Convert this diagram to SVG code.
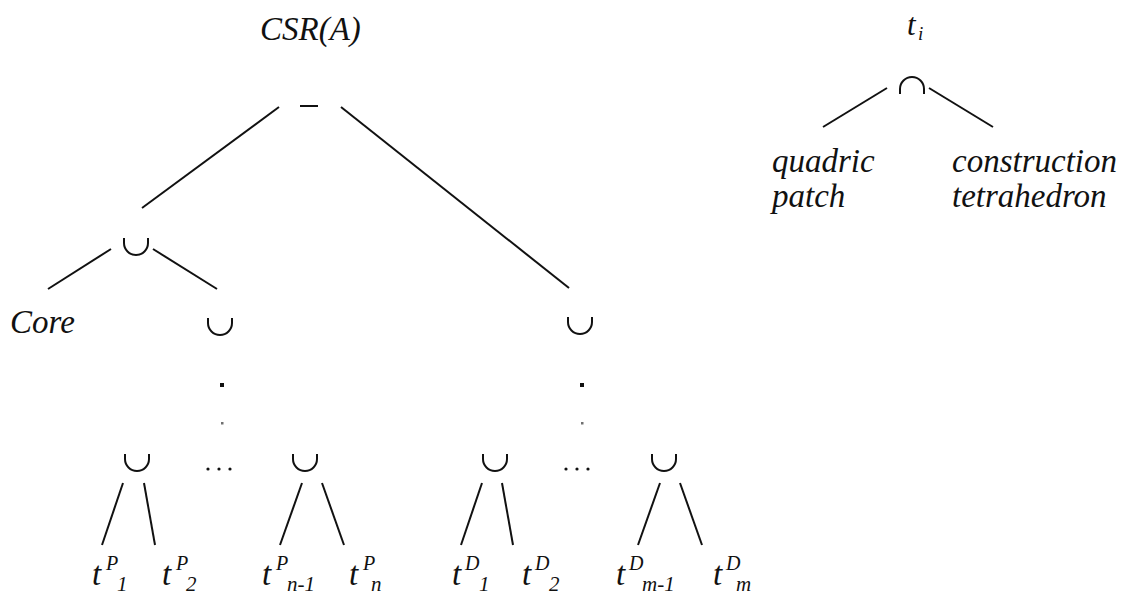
<svg xmlns="http://www.w3.org/2000/svg" width="1134" height="595" viewBox="0 0 1134 595">
<defs>
<style>
text{font-family:'Liberation Serif','DejaVu Serif','Times New Roman',serif;font-style:italic;fill:#111}
.lbl{font-size:33px}
.sup{font-size:20px}
.sub{font-size:21px}
.op{fill:none;stroke:#111;stroke-width:2}
.edge{stroke:#111;stroke-width:2;fill:none}
.dot{fill:#111}
</style>
<path id="cup" class="op" d="M-12,0 v5 a12,12 0 0 0 24,0 v-5"/>
<path id="cap" class="op" d="M-12,12 v-5 a12,12 0 0 1 24,0 v5"/>
</defs>
<rect width="1134" height="595" fill="#fff"/>
<g id="connectors">
<line class="edge" x1="279" y1="107" x2="142" y2="208"/>
<line class="edge" x1="341" y1="107" x2="569" y2="288"/>
<line class="edge" x1="111" y1="249" x2="48" y2="289"/>
<line class="edge" x1="153" y1="249" x2="217" y2="289"/>
<line class="edge" x1="123" y1="483" x2="102" y2="545"/>
<line class="edge" x1="144" y1="483" x2="155" y2="545"/>
<line class="edge" x1="302" y1="483" x2="280" y2="545"/>
<line class="edge" x1="322" y1="483" x2="344" y2="545"/>
<line class="edge" x1="482" y1="483" x2="461" y2="545"/>
<line class="edge" x1="502" y1="483" x2="513" y2="545"/>
<line class="edge" x1="660" y1="483" x2="638" y2="545"/>
<line class="edge" x1="680" y1="483" x2="702" y2="545"/>
<line class="edge" x1="887" y1="88" x2="823" y2="127"/>
<line class="edge" x1="929" y1="88" x2="993" y2="127"/>
</g>
<g id="csr"><text class="lbl" x="260" y="40">CSR(A)</text></g>
<g id="minus"><line class="edge" x1="300" y1="106" x2="318" y2="106"/></g>
<g id="union1"><use href="#cup" x="136" y="238"/></g>
<g id="core"><text class="lbl" x="10" y="333">Core</text></g>
<g id="unionP"><use href="#cup" x="220" y="318"/>
<rect class="dot" x="220" y="383" width="4" height="4"/>
<rect class="dot" x="221" y="422" width="2.5" height="2.5" opacity="0.6"/></g>
<g id="unionD"><use href="#cup" x="580" y="317"/>
<rect class="dot" x="580" y="383" width="4" height="4"/>
<rect class="dot" x="581" y="422" width="2.5" height="2.5" opacity="0.6"/></g>
<g id="unionP1"><use href="#cup" x="137" y="454"/></g>
<g id="ellipsisP"><circle class="dot" cx="208" cy="469" r="1.6"/><circle class="dot" cx="219" cy="469" r="1.6"/><circle class="dot" cx="230" cy="469" r="1.6"/></g>
<g id="unionPn"><use href="#cup" x="305" y="454"/></g>
<g id="unionD1"><use href="#cup" x="495" y="454"/></g>
<g id="ellipsisD"><circle class="dot" cx="566" cy="469" r="1.6"/><circle class="dot" cx="577" cy="469" r="1.6"/><circle class="dot" cx="588" cy="469" r="1.6"/></g>
<g id="unionDm"><use href="#cup" x="664" y="454"/></g>
<g id="tP1"><text class="lbl" x="92" y="585">t</text><text class="sup" x="106" y="570">P</text><text class="sub" x="117" y="591">1</text></g>
<g id="tP2"><text class="lbl" x="162" y="585">t</text><text class="sup" x="176" y="570">P</text><text class="sub" x="186" y="591">2</text></g>
<g id="tPn1"><text class="lbl" x="262" y="585">t</text><text class="sup" x="276" y="570">P</text><text class="sub" x="287" y="591">n-1</text></g>
<g id="tPn"><text class="lbl" x="349" y="585">t</text><text class="sup" x="363" y="570">P</text><text class="sub" x="371" y="591">n</text></g>
<g id="tD1"><text class="lbl" x="452" y="585">t</text><text class="sup" x="465" y="570">D</text><text class="sub" x="479" y="591">1</text></g>
<g id="tD2"><text class="lbl" x="522" y="585">t</text><text class="sup" x="535" y="570">D</text><text class="sub" x="549" y="591">2</text></g>
<g id="tDm1"><text class="lbl" x="616" y="585">t</text><text class="sup" x="629" y="570">D</text><text class="sub" x="642" y="591">m-1</text></g>
<g id="tDm"><text class="lbl" x="713" y="585">t</text><text class="sup" x="726" y="570">D</text><text class="sub" x="736" y="591">m</text></g>
<g id="ti"><text class="lbl" x="907" y="35" style="font-size:31px">t</text><text class="sub" x="918" y="40" style="font-size:19px">i</text></g>
<g id="intersect"><use href="#cap" x="912" y="82"/></g>
<g id="quadric"><text class="lbl" x="772" y="172">quadric</text><text class="lbl" x="772" y="207">patch</text></g>
<g id="construction"><text class="lbl" x="952" y="172">construction</text><text class="lbl" x="952" y="207">tetrahedron</text></g>
</svg>
